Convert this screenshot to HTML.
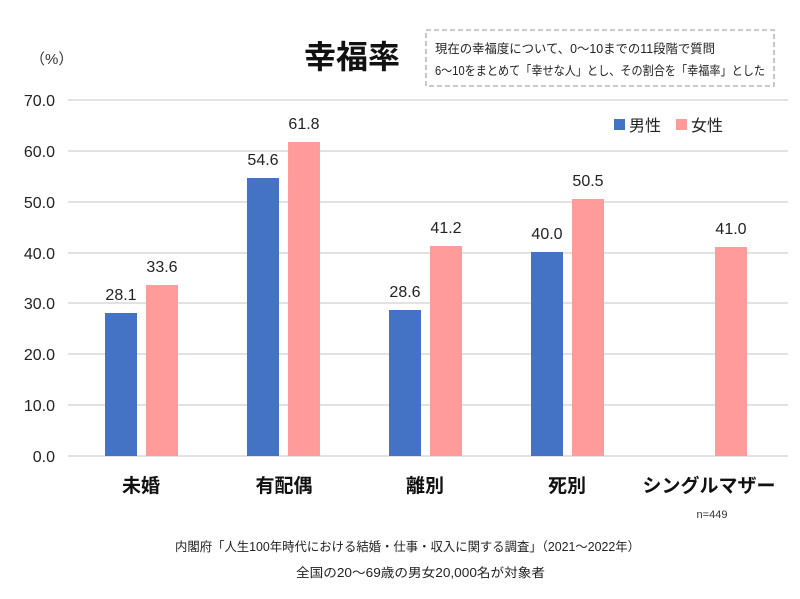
<!DOCTYPE html>
<html><head><meta charset="utf-8"><style>
body{margin:0;background:#fff;}
svg{display:block;font-family:"Liberation Sans","Noto Sans CJK JP",sans-serif;}
</style></head><body>
<svg width="800" height="599" viewBox="0 0 800 599" xmlns="http://www.w3.org/2000/svg">
<rect width="800" height="599" fill="#fff"/>
<text x="30" y="64" font-size="15" fill="#333">（%）</text>
<text x="352" y="68" font-size="32" font-weight="bold" fill="#111" text-anchor="middle">幸福率</text>
<rect x="426" y="30" width="348" height="56" fill="none" stroke="#aaa" stroke-width="1.3" stroke-dasharray="5,3"/>
<text x="435" y="53" font-size="12.5" fill="#222" textLength="280" lengthAdjust="spacingAndGlyphs">現在の幸福度について、0～10までの11段階で質問</text>
<text x="435" y="75" font-size="12.5" fill="#222" textLength="330" lengthAdjust="spacingAndGlyphs">6～10をまとめて「幸せな人」とし、その割合を「幸福率」とした</text>
<g stroke="#d9d9d9" stroke-width="1.5">
<line x1="68" y1="100" x2="788" y2="100"/><line x1="68" y1="151" x2="788" y2="151"/>
<line x1="68" y1="202" x2="788" y2="202"/><line x1="68" y1="253" x2="788" y2="253"/>
<line x1="68" y1="303" x2="788" y2="303"/><line x1="68" y1="354" x2="788" y2="354"/>
<line x1="68" y1="405" x2="788" y2="405"/><line x1="68" y1="456" x2="788" y2="456"/>
</g>
<g font-size="16" fill="#222" text-anchor="end">
<text x="55" y="106">70.0</text><text x="55" y="157">60.0</text><text x="55" y="208">50.0</text>
<text x="55" y="259">40.0</text><text x="55" y="309">30.0</text><text x="55" y="360">20.0</text>
<text x="55" y="411">10.0</text><text x="55" y="462">0.0</text>
</g>
<g fill="#4472c4">
<rect x="105" y="313" width="32" height="143"/>
<rect x="247" y="178" width="32" height="278"/>
<rect x="389" y="310" width="32" height="146"/>
<rect x="531" y="252" width="32" height="204"/>
</g>
<g fill="#ff9b9b">
<rect x="146" y="285" width="32" height="171"/>
<rect x="288" y="142" width="32" height="314"/>
<rect x="430" y="246" width="32" height="210"/>
<rect x="572" y="199" width="32" height="257"/>
<rect x="715" y="247" width="32" height="209"/>
</g>
<g font-size="16" fill="#222" text-anchor="middle">
<text x="121" y="300">28.1</text><text x="162" y="272">33.6</text>
<text x="263" y="165">54.6</text><text x="304" y="129">61.8</text>
<text x="405" y="297">28.6</text><text x="446" y="233">41.2</text>
<text x="547" y="239">40.0</text><text x="588" y="186">50.5</text>
<text x="731" y="234">41.0</text>
</g>
<rect x="614" y="119" width="11" height="11" fill="#4472c4"/>
<text x="629" y="131" font-size="16" fill="#222">男性</text>
<rect x="676" y="119" width="11" height="11" fill="#ff9b9b"/>
<text x="691" y="131" font-size="16" fill="#222">女性</text>
<g font-size="19" font-weight="bold" fill="#111" text-anchor="middle">
<text x="141" y="492">未婚</text><text x="284" y="492">有配偶</text>
<text x="425" y="492">離別</text><text x="567" y="492">死別</text>
<text x="709" y="492">シングルマザー</text>
</g>
<text x="712" y="518" font-size="11" fill="#333" text-anchor="middle">n=449</text>
<text x="175" y="551" font-size="12.5" fill="#222" textLength="465" lengthAdjust="spacingAndGlyphs">内閣府「人生100年時代における結婚・仕事・収入に関する調査」（2021～2022年）</text>
<text x="296" y="577" font-size="12.5" fill="#222" textLength="249" lengthAdjust="spacingAndGlyphs">全国の20～69歳の男女20,000名が対象者</text>
</svg>
</body></html>
